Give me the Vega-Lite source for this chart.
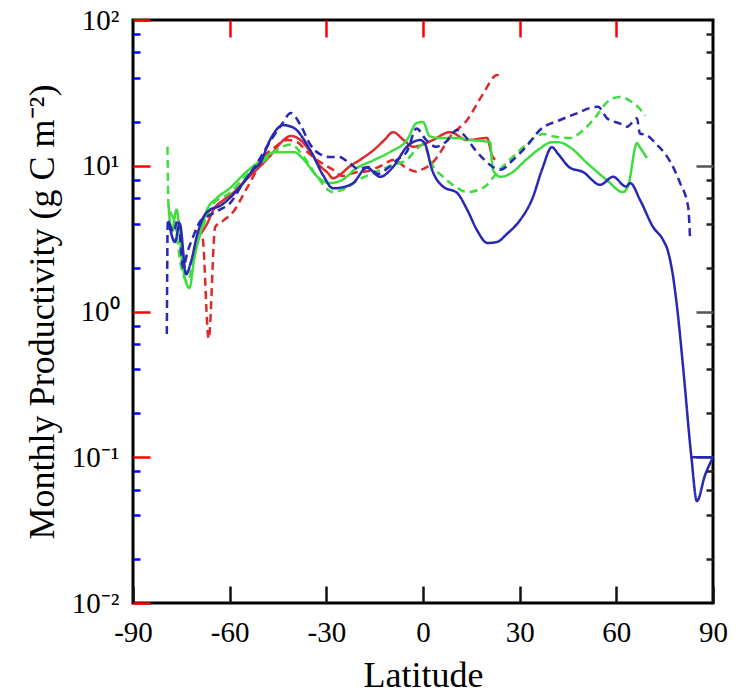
{
 "$schema": "https://vega.github.io/schema/vega-lite/v6.json",
 "width": 580, "height": 583,
 "autosize": "none",
 "padding": {"left": 133, "top": 20, "right": 26, "bottom": 95},
 "background": "white",
 "config": {"font": "Liberation Serif", "view": {"stroke": "black", "strokeWidth": 3}, "axis": {"grid": false, "domain": false, "labelColor": "black", "titleColor": "black"}},
 "data": {"values": [
  {"m":"M1","c":"a","lat":-69,"v":3.4},{"m":"M1","c":"a","lat":-67,"v":4.0},{"m":"M1","c":"a","lat":-65,"v":5.0},{"m":"M1","c":"a","lat":-62,"v":5.8},{"m":"M1","c":"a","lat":-59,"v":6.5},{"m":"M1","c":"a","lat":-55,"v":8.0},{"m":"M1","c":"a","lat":-51,"v":9.7},{"m":"M1","c":"a","lat":-47,"v":12},{"m":"M1","c":"a","lat":-44,"v":14.5},{"m":"M1","c":"a","lat":-41,"v":16},{"m":"M1","c":"a","lat":-38,"v":15},{"m":"M1","c":"a","lat":-35,"v":12.5},{"m":"M1","c":"a","lat":-32,"v":10},{"m":"M1","c":"a","lat":-29.5,"v":8.9},{"m":"M1","c":"a","lat":-28,"v":8.2},{"m":"M1","c":"a","lat":-26,"v":8.6},{"m":"M1","c":"a","lat":-23,"v":9.8},{"m":"M1","c":"a","lat":-19.5,"v":11},{"m":"M1","c":"a","lat":-15,"v":13},{"m":"M1","c":"a","lat":-12,"v":15},{"m":"M1","c":"a","lat":-9.3,"v":17},{"m":"M1","c":"a","lat":-6,"v":15},{"m":"M1","c":"a","lat":-3,"v":13.5},{"m":"M1","c":"a","lat":0,"v":14},{"m":"M1","c":"a","lat":3,"v":15},{"m":"M1","c":"a","lat":8.4,"v":17},{"m":"M1","c":"a","lat":13.7,"v":15},{"m":"M1","c":"a","lat":19.9,"v":15.5},{"m":"M1","c":"a","lat":21.4,"v":11.8},{"m":"M1","c":"a","lat":22.4,"v":11},
  {"m":"M1","c":"b","lat":-71,"v":3.6},{"m":"M1","c":"b","lat":-68.5,"v":3.3},{"m":"M1","c":"b","lat":-66.5,"v":0.65},{"m":"M1","c":"b","lat":-64.5,"v":3.8},{"m":"M1","c":"b","lat":-62,"v":4.2},{"m":"M1","c":"b","lat":-59,"v":4.8},{"m":"M1","c":"b","lat":-55,"v":6.8},{"m":"M1","c":"b","lat":-52,"v":9},{"m":"M1","c":"b","lat":-50,"v":11},{"m":"M1","c":"b","lat":-46,"v":13.4},{"m":"M1","c":"b","lat":-42,"v":15},{"m":"M1","c":"b","lat":-39,"v":14.5},{"m":"M1","c":"b","lat":-36,"v":12.5},{"m":"M1","c":"b","lat":-33,"v":11},{"m":"M1","c":"b","lat":-30,"v":10},{"m":"M1","c":"b","lat":-28,"v":9.4},{"m":"M1","c":"b","lat":-25,"v":8.5},{"m":"M1","c":"b","lat":-21,"v":9},{"m":"M1","c":"b","lat":-17,"v":9.2},{"m":"M1","c":"b","lat":-13,"v":10},{"m":"M1","c":"b","lat":-9,"v":11},{"m":"M1","c":"b","lat":-5,"v":9.6},{"m":"M1","c":"b","lat":-2,"v":9.1},{"m":"M1","c":"b","lat":0,"v":9.5},{"m":"M1","c":"b","lat":3,"v":10.5},{"m":"M1","c":"b","lat":5,"v":12},{"m":"M1","c":"b","lat":8.4,"v":15.8},{"m":"M1","c":"b","lat":13.7,"v":20.6},{"m":"M1","c":"b","lat":18.6,"v":31},{"m":"M1","c":"b","lat":23,"v":42},{"m":"M1","c":"b","lat":24,"v":41},
  {"m":"M2","c":"a","lat":-79,"v":5.5},{"m":"M2","c":"a","lat":-78,"v":3.5},{"m":"M2","c":"a","lat":-76.5,"v":5.0},{"m":"M2","c":"a","lat":-74.5,"v":2.0},{"m":"M2","c":"a","lat":-72.5,"v":1.45},{"m":"M2","c":"a","lat":-71,"v":2.3},{"m":"M2","c":"a","lat":-69,"v":3.5},{"m":"M2","c":"a","lat":-67,"v":5.0},{"m":"M2","c":"a","lat":-64,"v":6.0},{"m":"M2","c":"a","lat":-60,"v":7.0},{"m":"M2","c":"a","lat":-55,"v":9},{"m":"M2","c":"a","lat":-50,"v":11},{"m":"M2","c":"a","lat":-46,"v":12.4},{"m":"M2","c":"a","lat":-40,"v":12.4},{"m":"M2","c":"a","lat":-37,"v":11},{"m":"M2","c":"a","lat":-33,"v":8.5},{"m":"M2","c":"a","lat":-29,"v":7.6},{"m":"M2","c":"a","lat":-25,"v":8},{"m":"M2","c":"a","lat":-21,"v":9.5},{"m":"M2","c":"a","lat":-15,"v":11},{"m":"M2","c":"a","lat":-10,"v":12.5},{"m":"M2","c":"a","lat":-5,"v":15},{"m":"M2","c":"a","lat":-2,"v":19.6},{"m":"M2","c":"a","lat":0,"v":20},{"m":"M2","c":"a","lat":2,"v":16},{"m":"M2","c":"a","lat":5,"v":15.5},{"m":"M2","c":"a","lat":10,"v":15.5},{"m":"M2","c":"a","lat":15,"v":15},{"m":"M2","c":"a","lat":20.8,"v":14.5},{"m":"M2","c":"a","lat":21.7,"v":9.4},{"m":"M2","c":"a","lat":24,"v":8.4},{"m":"M2","c":"a","lat":27,"v":8.8},{"m":"M2","c":"a","lat":32,"v":11},{"m":"M2","c":"a","lat":36,"v":13},{"m":"M2","c":"a","lat":40,"v":14.5},{"m":"M2","c":"a","lat":42,"v":14.5},{"m":"M2","c":"a","lat":45.6,"v":13.4},{"m":"M2","c":"a","lat":51,"v":10.4},{"m":"M2","c":"a","lat":57,"v":8},{"m":"M2","c":"a","lat":62,"v":6.6},{"m":"M2","c":"a","lat":63.6,"v":7.2},{"m":"M2","c":"a","lat":66.4,"v":14.3},{"m":"M2","c":"a","lat":67.3,"v":13.4},{"m":"M2","c":"a","lat":69.5,"v":11.3},
  {"m":"M2","c":"b","lat":-79.3,"v":13.5},{"m":"M2","c":"b","lat":-79,"v":5.5},{"m":"M2","c":"b","lat":-77,"v":4},{"m":"M2","c":"b","lat":-75,"v":2},{"m":"M2","c":"b","lat":-73,"v":1.6},{"m":"M2","c":"b","lat":-71,"v":2.5},{"m":"M2","c":"b","lat":-68,"v":4},{"m":"M2","c":"b","lat":-65,"v":5.5},{"m":"M2","c":"b","lat":-60,"v":6.5},{"m":"M2","c":"b","lat":-55,"v":8.5},{"m":"M2","c":"b","lat":-50,"v":10.5},{"m":"M2","c":"b","lat":-45,"v":13},{"m":"M2","c":"b","lat":-41,"v":14},{"m":"M2","c":"b","lat":-37,"v":11.5},{"m":"M2","c":"b","lat":-33,"v":8.5},{"m":"M2","c":"b","lat":-28,"v":6.6},{"m":"M2","c":"b","lat":-24,"v":7},{"m":"M2","c":"b","lat":-20,"v":8},{"m":"M2","c":"b","lat":-15,"v":9},{"m":"M2","c":"b","lat":-10,"v":10},{"m":"M2","c":"b","lat":-5,"v":11},{"m":"M2","c":"b","lat":-2,"v":13},{"m":"M2","c":"b","lat":0,"v":14},{"m":"M2","c":"b","lat":3,"v":10},{"m":"M2","c":"b","lat":6.2,"v":8.4},{"m":"M2","c":"b","lat":10,"v":7.2},{"m":"M2","c":"b","lat":13.7,"v":6.6},{"m":"M2","c":"b","lat":17,"v":6.8},{"m":"M2","c":"b","lat":19.9,"v":7.4},{"m":"M2","c":"b","lat":23,"v":9},{"m":"M2","c":"b","lat":27,"v":11},{"m":"M2","c":"b","lat":32,"v":14},{"m":"M2","c":"b","lat":37.3,"v":16.5},{"m":"M2","c":"b","lat":41,"v":15.8},{"m":"M2","c":"b","lat":45.6,"v":15.5},{"m":"M2","c":"b","lat":49,"v":17},{"m":"M2","c":"b","lat":52.8,"v":20.6},{"m":"M2","c":"b","lat":58,"v":28.3},{"m":"M2","c":"b","lat":61.1,"v":29.6},{"m":"M2","c":"b","lat":65.2,"v":27},{"m":"M2","c":"b","lat":67,"v":25},{"m":"M2","c":"b","lat":68.9,"v":22},
  {"m":"M3","c":"a","lat":-79,"v":4.2},{"m":"M3","c":"a","lat":-77,"v":3.0},{"m":"M3","c":"a","lat":-75.5,"v":4.0},{"m":"M3","c":"a","lat":-73.5,"v":1.8},{"m":"M3","c":"a","lat":-72,"v":2.2},{"m":"M3","c":"a","lat":-70,"v":3.4},{"m":"M3","c":"a","lat":-68,"v":4.5},{"m":"M3","c":"a","lat":-66,"v":5.0},{"m":"M3","c":"a","lat":-63,"v":5.3},{"m":"M3","c":"a","lat":-60,"v":6.0},{"m":"M3","c":"a","lat":-56,"v":7.5},{"m":"M3","c":"a","lat":-52.5,"v":9.5},{"m":"M3","c":"a","lat":-50.6,"v":10.4},{"m":"M3","c":"a","lat":-47.5,"v":15},{"m":"M3","c":"a","lat":-43.4,"v":19},{"m":"M3","c":"a","lat":-40.3,"v":18.3},{"m":"M3","c":"a","lat":-35,"v":12.8},{"m":"M3","c":"a","lat":-31,"v":8.6},{"m":"M3","c":"a","lat":-27.9,"v":7.0},{"m":"M3","c":"a","lat":-24,"v":7.2},{"m":"M3","c":"a","lat":-21.7,"v":7.6},{"m":"M3","c":"a","lat":-17.4,"v":9.7},{"m":"M3","c":"a","lat":-13.3,"v":8.4},{"m":"M3","c":"a","lat":-9.3,"v":9.8},{"m":"M3","c":"a","lat":-5,"v":13.5},{"m":"M3","c":"a","lat":-0.9,"v":15},{"m":"M3","c":"a","lat":0.5,"v":14.3},{"m":"M3","c":"a","lat":2.8,"v":9.4},{"m":"M3","c":"a","lat":6.2,"v":7.2},{"m":"M3","c":"a","lat":10.6,"v":6.5},{"m":"M3","c":"a","lat":13.7,"v":5.0},{"m":"M3","c":"a","lat":16.8,"v":3.6},{"m":"M3","c":"a","lat":20,"v":2.95},{"m":"M3","c":"a","lat":23,"v":3.0},{"m":"M3","c":"a","lat":26,"v":3.4},{"m":"M3","c":"a","lat":30,"v":4.2},{"m":"M3","c":"a","lat":34,"v":6.0},{"m":"M3","c":"a","lat":37,"v":9.5},{"m":"M3","c":"a","lat":40,"v":13.4},{"m":"M3","c":"a","lat":42,"v":12},{"m":"M3","c":"a","lat":45.6,"v":9.7},{"m":"M3","c":"a","lat":49.5,"v":9.1},{"m":"M3","c":"a","lat":55,"v":7.4},{"m":"M3","c":"a","lat":59,"v":8.4},{"m":"M3","c":"a","lat":63,"v":7.2},{"m":"M3","c":"a","lat":64.3,"v":7.6},{"m":"M3","c":"a","lat":67.4,"v":5.8},{"m":"M3","c":"a","lat":71.4,"v":3.8},{"m":"M3","c":"a","lat":74.5,"v":3.1},{"m":"M3","c":"a","lat":76,"v":2.6},{"m":"M3","c":"a","lat":77.5,"v":1.8},{"m":"M3","c":"a","lat":79,"v":1.0},{"m":"M3","c":"a","lat":80.7,"v":0.42},{"m":"M3","c":"a","lat":83.3,"v":0.1},{"m":"M3","c":"a","lat":85,"v":0.05},{"m":"M3","c":"a","lat":87.5,"v":0.075},{"m":"M3","c":"a","lat":90,"v":0.1},
  {"m":"M3","c":"a","p":"2","lat":83.3,"v":0.1},{"m":"M3","c":"a","p":"2","lat":90,"v":0.1},
  {"m":"M3","c":"b","lat":-79.5,"v":0.7},{"m":"M3","c":"b","lat":-79.2,"v":4.2},{"m":"M3","c":"b","lat":-77.5,"v":3.5},{"m":"M3","c":"b","lat":-76,"v":4.3},{"m":"M3","c":"b","lat":-74.5,"v":2.0},{"m":"M3","c":"b","lat":-73,"v":2.6},{"m":"M3","c":"b","lat":-71,"v":3.4},{"m":"M3","c":"b","lat":-69,"v":4.2},{"m":"M3","c":"b","lat":-66,"v":4.6},{"m":"M3","c":"b","lat":-63,"v":5.0},{"m":"M3","c":"b","lat":-60,"v":5.5},{"m":"M3","c":"b","lat":-56,"v":7.5},{"m":"M3","c":"b","lat":-52,"v":10},{"m":"M3","c":"b","lat":-48,"v":14},{"m":"M3","c":"b","lat":-44,"v":19},{"m":"M3","c":"b","lat":-41,"v":23},{"m":"M3","c":"b","lat":-38,"v":19},{"m":"M3","c":"b","lat":-35,"v":14},{"m":"M3","c":"b","lat":-32,"v":12},{"m":"M3","c":"b","lat":-29,"v":11.5},{"m":"M3","c":"b","lat":-26,"v":11.5},{"m":"M3","c":"b","lat":-23,"v":10.5},{"m":"M3","c":"b","lat":-20,"v":9.5},{"m":"M3","c":"b","lat":-17,"v":9.8},{"m":"M3","c":"b","lat":-14,"v":8.8},{"m":"M3","c":"b","lat":-11,"v":9.6},{"m":"M3","c":"b","lat":-8,"v":11},{"m":"M3","c":"b","lat":-5,"v":12.5},{"m":"M3","c":"b","lat":-2,"v":18},{"m":"M3","c":"b","lat":1,"v":15},{"m":"M3","c":"b","lat":4,"v":13.5},{"m":"M3","c":"b","lat":7,"v":14.5},{"m":"M3","c":"b","lat":10.6,"v":17.6},{"m":"M3","c":"b","lat":13,"v":16},{"m":"M3","c":"b","lat":16,"v":13},{"m":"M3","c":"b","lat":19,"v":11},{"m":"M3","c":"b","lat":21.7,"v":9.8},{"m":"M3","c":"b","lat":24,"v":9.4},{"m":"M3","c":"b","lat":28,"v":11},{"m":"M3","c":"b","lat":32,"v":13.5},{"m":"M3","c":"b","lat":36.3,"v":17.6},{"m":"M3","c":"b","lat":42.5,"v":20.6},{"m":"M3","c":"b","lat":48,"v":23},{"m":"M3","c":"b","lat":51.8,"v":24.9},{"m":"M3","c":"b","lat":54.3,"v":25.4},{"m":"M3","c":"b","lat":57.1,"v":21.2},{"m":"M3","c":"b","lat":61,"v":19.5},{"m":"M3","c":"b","lat":63.3,"v":18.5},{"m":"M3","c":"b","lat":66.4,"v":21.2},{"m":"M3","c":"b","lat":67.3,"v":16.7},{"m":"M3","c":"b","lat":69.5,"v":16.2},{"m":"M3","c":"b","lat":72.5,"v":14},{"m":"M3","c":"b","lat":75.7,"v":11.6},{"m":"M3","c":"b","lat":79.8,"v":7.6},{"m":"M3","c":"b","lat":82.3,"v":5.2},{"m":"M3","c":"b","lat":82.9,"v":3.1}
 ]},
 "layer": [
  {
   "mark": {"type": "line", "strokeWidth": 2.5, "clip": true, "interpolate": "monotone"},
   "encoding": {
    "x": {"field": "lat", "type": "quantitative", "scale": {"domain": [-90, 90], "nice": false, "zero": false},
          "axis": {"orient": "bottom", "values": [-90, -60, -30, 0, 30, 60, 90], "tickColor": "#111111", "tickWidth": 2.5, "tickSize": -17, "labelFontSize": 29, "labelPadding": 32, "labelFlush": false, "labelOverlap": false, "labelBound": false,
                   "labelExpr": "datum.value < 0 ? '-' + abs(datum.value) : '' + datum.value",
                   "title": "Latitude", "titleFontSize": 36, "titleFontWeight": "normal", "titleX": 290, "titleY": 55, "titleBaseline": "top", "titleAlign": "center"}},
    "y": {"field": "v", "type": "quantitative", "scale": {"type": "log", "domain": [0.01, 100], "nice": false},
          "axis": {"orient": "left", "values": [0.01, 0.1, 1, 10, 100], "tickColor": "red", "tickWidth": 2.5, "tickSize": -17, "labelFontSize": 29, "labelPadding": 31, "labelOverlap": false, "labelFlush": false, "labelBound": false,
                   "labelExpr": "datum.value >= 99 ? '10²' : datum.value >= 9 ? '10¹' : datum.value >= 0.9 ? '10⁰' : datum.value >= 0.09 ? '10⁻¹' : '10⁻²'",
                   "title": "Monthly Productivity (g C m⁻²)", "titleFontSize": 36, "titleFontWeight": "normal", "titleAngle": 270, "titleX": -80, "titleY": 291.5, "titleBaseline": "alphabetic", "titleAlign": "center"}},
    "color": {"field": "m", "type": "nominal", "scale": {"domain": ["M1", "M2", "M3"], "range": ["#e02a2a", "#3fdc3f", "#2828b4"]}, "legend": null},
    "strokeDash": {"field": "c", "type": "nominal", "scale": {"domain": ["a", "b"], "range": [[1, 0], [8, 5]]}, "legend": null},
    "detail": {"field": "p"}
   }
  },
  {
   "mark": {"type": "point", "opacity": 0},
   "encoding": {
    "x": {"field": "lat", "type": "quantitative", "scale": {"domain": [-90, 90], "nice": false, "zero": false},
          "axis": {"orient": "top", "values": [-60, -30, 0, 30, 60], "labels": false, "tickColor": "red", "tickWidth": 2.5, "tickSize": -17, "title": null}},
    "y": {"field": "v", "type": "quantitative", "scale": {"type": "log", "domain": [0.01, 100], "nice": false},
          "axis": {"orient": "right", "values": [0.1, 1, 10], "labels": false, "tickColor": "#555555", "tickWidth": 2.5, "tickSize": -17, "title": null}}
   }
  },
  {
   "mark": {"type": "point", "opacity": 0},
   "encoding": {
    "x": {"field": "lat", "type": "quantitative", "scale": {"domain": [-90, 90], "nice": false, "zero": false}, "axis": null},
    "y": {"field": "v", "type": "quantitative", "scale": {"type": "log", "domain": [0.01, 100], "nice": false},
          "axis": {"orient": "left", "values": [0.02, 0.04, 0.06, 0.08, 0.2, 0.4, 0.6, 0.8, 2, 4, 6, 8, 20, 40, 60, 80], "labels": false, "tickColor": "blue", "tickWidth": 2.5, "tickSize": -7, "title": null}}
   }
  },
  {
   "mark": {"type": "point", "opacity": 0},
   "encoding": {
    "x": {"field": "lat", "type": "quantitative", "scale": {"domain": [-90, 90], "nice": false, "zero": false}, "axis": null},
    "y": {"field": "v", "type": "quantitative", "scale": {"type": "log", "domain": [0.01, 100], "nice": false},
          "axis": {"orient": "right", "values": [0.02, 0.04, 0.06, 0.08, 0.2, 0.4, 0.6, 0.8, 2, 4, 6, 8, 20, 40, 60, 80], "labels": false, "tickColor": "#222222", "tickWidth": 2.5, "tickSize": -7, "title": null}}
   }
  }
 ],
 "resolve": {"axis": {"x": "independent", "y": "independent"}}
}
